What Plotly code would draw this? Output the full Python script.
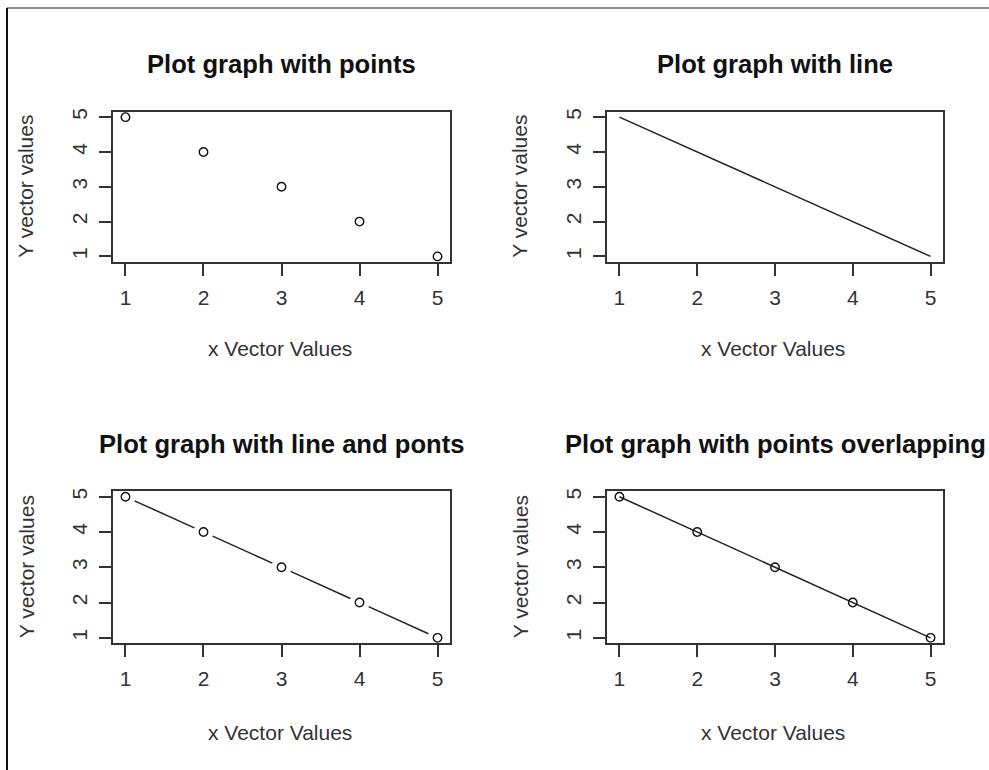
import plotly.graph_objects as go

# ---- data ----
x_vals = [1, 2, 3, 4, 5]
y_vals = [5, 4, 3, 2, 1]
tick_vals = [1, 2, 3, 4, 5]
titles = ["Plot graph with points", "Plot graph with line",
          "Plot graph with line and ponts", "Plot graph with points overlapping"]
x_label = "x Vector Values"
y_label = "Y vector values"

W, H = 989, 770
FONT = "Liberation Sans, Arial, sans-serif"
INK = "#222222"

# panel boxes in pixels (left, right, top, bottom)
boxes = [(113, 450, 109, 260), (607, 943, 109, 260),
         (113, 450, 490, 643), (607, 943, 490, 643)]
rng = [0.84, 5.16]

fig = go.Figure()

def ax_names(i):
    s = "" if i == 0 else str(i + 1)
    return "x" + s, "y" + s, "xaxis" + s, "yaxis" + s

marker = dict(symbol="circle-open", size=8.5, color="#111111", line=dict(width=1.4, color="#111111"))
line = dict(color=INK, width=1.5)

for i in range(4):
    xr, yr, xa, ya = ax_names(i)
    l, r, t, b = boxes[i]
    if i == 0:
        fig.add_trace(go.Scatter(x=x_vals, y=y_vals, mode="markers", marker=marker,
                                 xaxis=xr, yaxis=yr, showlegend=False))
    elif i == 1:
        fig.add_trace(go.Scatter(x=x_vals, y=y_vals, mode="lines", line=line,
                                 xaxis=xr, yaxis=yr, showlegend=False))
    elif i == 2:
        # type="b": segments with gaps around points (gap in pixel space)
        sx = (r - l) / (rng[1] - rng[0])
        sy = (b - t) / (rng[1] - rng[0])
        gap = 10.0
        segx, segy = [], []
        for k in range(len(x_vals) - 1):
            x0, y0, x1, y1 = x_vals[k], y_vals[k], x_vals[k + 1], y_vals[k + 1]
            dpx = ((x1 - x0) * sx) ** 2 + ((y1 - y0) * sy) ** 2
            f = gap / dpx ** 0.5
            segx += [x0 + f * (x1 - x0), x1 - f * (x1 - x0), None]
            segy += [y0 + f * (y1 - y0), y1 - f * (y1 - y0), None]
        fig.add_trace(go.Scatter(x=segx, y=segy, mode="lines", line=line,
                                 xaxis=xr, yaxis=yr, showlegend=False, connectgaps=False))
        fig.add_trace(go.Scatter(x=x_vals, y=y_vals, mode="markers", marker=marker,
                                 xaxis=xr, yaxis=yr, showlegend=False))
    else:
        fig.add_trace(go.Scatter(x=x_vals, y=y_vals, mode="lines+markers", line=line,
                                 marker=marker, xaxis=xr, yaxis=yr, showlegend=False))

    common = dict(range=rng, tickvals=tick_vals, ticks="outside", ticklen=12, tickwidth=1.5,
                  tickcolor="#333333", showline=True, linecolor="#333333", linewidth=1.5,
                  mirror=True, showgrid=False, zeroline=False, fixedrange=True,
                  ticklabelstandoff=4,
                  tickfont=dict(family=FONT, size=21, color="#333333"))
    fig.layout[xa] = dict(common, domain=[l / W, r / W], anchor=yr)
    fig.layout[ya] = dict(common, domain=[1 - b / H, 1 - t / H], anchor=xr, tickangle=-90)

    cx = (l + r) / 2
    ty = 61 if i < 2 else 443
    fig.add_annotation(text="<b>" + titles[i] + "</b>", xref="paper", yref="paper",
                       x=cx / W, y=1 - ty / H, xanchor="center", yanchor="middle",
                       showarrow=False, font=dict(family=FONT, size=25.6, color="#111111"))
    xy = 347 if i < 2 else 732
    fig.add_annotation(text=x_label, xref="paper", yref="paper",
                       x=(cx - 2) / W, y=1 - xy / H, xanchor="center", yanchor="middle",
                       showarrow=False, font=dict(family=FONT, size=21, color="#333333"))
    ylx = (l - 87)
    fig.add_annotation(text=y_label, xref="paper", yref="paper", textangle=-90,
                       x=ylx / W, y=1 - ((t + b) / 2) / H, xanchor="center", yanchor="middle",
                       showarrow=False, font=dict(family=FONT, size=21, color="#333333"))

# screenshot frame lines
fig.add_shape(type="line", xref="paper", yref="paper", x0=7 / W, x1=1, y0=1 - 5 / H, y1=1 - 5 / H,
              line=dict(color="#666666", width=1.5))
fig.add_shape(type="line", xref="paper", yref="paper", x0=7 / W, x1=7 / W, y0=1 - 5 / H, y1=0,
              line=dict(color="#111111", width=2))

fig.update_layout(width=W, height=H, autosize=False, margin=dict(l=0, r=0, t=0, b=0),
                  paper_bgcolor="white", plot_bgcolor="white", showlegend=False)

fig.write_html("out.html", config={"displayModeBar": False},
               post_script="document.body.style.margin='0';document.body.style.overflow='hidden';")
